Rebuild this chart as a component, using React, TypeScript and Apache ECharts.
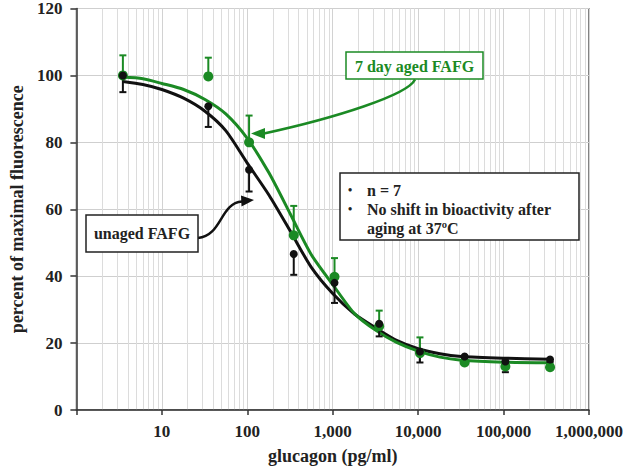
import React, { useEffect, useRef } from "react";
import * as echarts from "echarts";

// Measured doses (pg/ml)
const doses = [3.5, 35, 105, 350, 1050, 3500, 10500, 35000, 105000, 350000];
// unaged FAFG: mean and (lower) error
const unagedMean = [100, 90.8, 71.8, 46.6, 38, 25.8, 17.5, 16, 14.5, 15.1];
const unagedErr = [5, 6.2, 6.5, 6.2, 6, 3.8, 3.3, 1, 3.2, 0.8];
// 7 day aged FAFG: mean and (upper) error
const agedMean = [100, 99.7, 80, 52.2, 39.8, 25, 17, 14.2, 13, 12.8];
const agedErr = [6, 5.6, 8, 8.8, 5.6, 4.7, 4.7, 1, 1.2, 0.8];

// Fitted curves
const fitX = [3.5, 6, 10, 18, 32, 56, 100, 180, 320, 560, 1000, 1800, 3200, 5600, 10000, 18000, 32000, 100000, 350000];
const unagedFit = [98.2, 97.3, 95.8, 93.2, 89.3, 83.5, 73.8, 64.2, 53.4, 42.7, 34.8, 28.7, 24.5, 20.8, 18.3, 16.8, 16.0, 15.5, 15.2];
const agedFit = [99.5, 99.0, 97.6, 95.8, 92.8, 88.5, 81.2, 70.8, 58.5, 46.5, 37.5, 28.8, 23.8, 20.2, 17.6, 15.8, 14.9, 14.3, 14.1];

const yTicks = { min: 0, max: 120, interval: 20 };
const xRange = { min: 1, max: 1000000 };

const GREEN = "#1b8a24";
const BLACK = "#111111";
const FONT = "'Liberation Serif', 'Times New Roman', serif";

function minorGrid(): number[] {
  const out: number[] = [];
  for (let d = 1; d < xRange.max; d *= 10) {
    for (let k = 2; k <= 9; k++) out.push(k * d);
  }
  return out;
}

function errorSeries(name: string, means: number[], errs: number[], dir: number, color: string) {
  return {
    name,
    type: "custom",
    z: 4,
    silent: true,
    data: doses.map((d, i) => [d, means[i], errs[i], dir]),
    encode: { x: 0, y: 1 },
    renderItem: (params: any, api: any) => {
      const x = api.value(0);
      const y = api.value(1);
      const e = api.value(2);
      const s = api.value(3);
      const p0 = api.coord([x, y]);
      const p1 = api.coord([x, y + s * e]);
      return {
        type: "group",
        children: [
          { type: "line", shape: { x1: p0[0], y1: p0[1], x2: p1[0], y2: p1[1] }, style: { stroke: color, lineWidth: 2 } },
          { type: "line", shape: { x1: p1[0] - 3.5, y1: p1[1], x2: p1[0] + 3.5, y2: p1[1] }, style: { stroke: color, lineWidth: 2 } },
        ],
      };
    },
  };
}

export default function App() {
  const ref = useRef<HTMLDivElement>(null);
  useEffect(() => {
    if (!ref.current) return;
    const chart = echarts.init(ref.current, null, { renderer: "svg" });
    const option: any = {
      animation: false,
      backgroundColor: "#ffffff",
      textStyle: { fontFamily: FONT },
      grid: {
        left: 62,
        right: 39,
        top: 7,
        bottom: 58.5,
        show: true,
        borderColor: "#333333",
        borderWidth: 1.2,
        backgroundColor: "transparent",
      },
      xAxis: {
        type: "log",
        logBase: 10,
        min: xRange.min,
        max: xRange.max,
        name: "glucagon (pg/ml)",
        nameLocation: "middle",
        nameGap: 37,
        nameTextStyle: { fontFamily: FONT, fontWeight: "bold", fontSize: 18, color: "#222" },
        axisLine: { lineStyle: { color: "#333", width: 1.5 } },
        axisTick: { show: true, length: 5, lineStyle: { color: "#333", width: 1.5 } },
        axisLabel: {
          fontFamily: FONT,
          fontWeight: "bold",
          fontSize: 17,
          color: "#222",
          margin: 13,
          formatter: (v: number) => (v < 10 ? "" : Math.round(v).toLocaleString("en-US")),
        },
        splitLine: { show: true, lineStyle: { color: "#d2d2d2", width: 1 } },
      },
      yAxis: {
        type: "value",
        min: yTicks.min,
        max: yTicks.max,
        interval: yTicks.interval,
        name: "percent of maximal fluorescence",
        nameLocation: "middle",
        nameGap: 44,
        nameTextStyle: { fontFamily: FONT, fontWeight: "bold", fontSize: 18, color: "#222" },
        axisLine: { show: true, lineStyle: { color: "#333", width: 1.5 } },
        axisTick: { show: true, length: 6, lineStyle: { color: "#333", width: 1.5 } },
        axisLabel: { fontFamily: FONT, fontWeight: "bold", fontSize: 17, color: "#222", margin: 14 },
        splitLine: { show: true, lineStyle: { color: "#cfcfcf", width: 1 } },
      },
      series: [
        {
          name: "minor grid",
          type: "line",
          data: [],
          silent: true,
          z: 0,
          markLine: {
            z: 0,
            silent: true,
            symbol: ["none", "none"],
            label: { show: false },
            emphasis: { disabled: true },
            lineStyle: { color: "#dcdcdc", width: 1, type: "solid" },
            data: minorGrid().map((v) => ({ xAxis: v })),
          },
        },
        {
          name: "unaged fit",
          type: "line",
          z: 3,
          smooth: 0.25,
          showSymbol: false,
          symbol: "none",
          lineStyle: { color: BLACK, width: 3 },
          data: fitX.map((x, i) => [x, unagedFit[i]]),
        },
        {
          name: "aged fit",
          type: "line",
          z: 3,
          smooth: 0.25,
          showSymbol: false,
          symbol: "none",
          lineStyle: { color: GREEN, width: 3 },
          data: fitX.map((x, i) => [x, agedFit[i]]),
        },
        errorSeries("unaged err", unagedMean, unagedErr, -1, BLACK),
        errorSeries("aged err", agedMean, agedErr, 1, GREEN),
        {
          name: "7 day aged FAFG",
          type: "scatter",
          z: 5,
          symbolSize: 10,
          itemStyle: { color: GREEN, opacity: 1 },
          data: doses.map((d, i) => [d, agedMean[i]]),
        },
        {
          name: "unaged FAFG",
          type: "scatter",
          z: 6,
          symbolSize: 8,
          itemStyle: { color: BLACK, opacity: 1 },
          data: doses.map((d, i) => [d, unagedMean[i]]),
        },
      ],
      graphic: [
        // green annotation
        {
          type: "bezierCurve",
          z: 10,
          shape: { x1: 415, y1: 79.5, cpx1: 408, cpy1: 95, cpx2: 335, cpy2: 118, x2: 264, y2: 133.5 },
          style: { stroke: GREEN, lineWidth: 2.5, fill: "none" },
        },
        {
          type: "polygon",
          z: 10,
          shape: { points: [[251, 133.5], [265, 128], [265, 139]] },
          style: { fill: GREEN },
        },
        {
          type: "rect",
          z: 10,
          shape: { x: 346, y: 52, width: 137, height: 27 },
          style: { fill: "#ffffff", stroke: GREEN, lineWidth: 1.5 },
        },
        {
          type: "text",
          z: 11,
          x: 414.5,
          y: 66,
          style: {
            text: "7 day aged FAFG",
            fill: GREEN,
            font: `bold 16px ${FONT}`,
            align: "center",
            verticalAlign: "middle",
          },
        },
        // black annotation
        {
          type: "bezierCurve",
          z: 10,
          shape: { x1: 198, y1: 238, cpx1: 222, cpy1: 236, cpx2: 220, cpy2: 203, x2: 242, y2: 201.5 },
          style: { stroke: BLACK, lineWidth: 2.5, fill: "none" },
        },
        {
          type: "polygon",
          z: 10,
          shape: { points: [[254, 200], [241, 195.5], [241.5, 206.5]] },
          style: { fill: BLACK },
        },
        {
          type: "rect",
          z: 10,
          shape: { x: 86, y: 215, width: 112, height: 37 },
          style: { fill: "#ffffff", stroke: "#222", lineWidth: 1.5 },
        },
        {
          type: "text",
          z: 11,
          x: 142,
          y: 233.5,
          style: {
            text: "unaged FAFG",
            fill: "#222",
            font: `bold 16px ${FONT}`,
            align: "center",
            verticalAlign: "middle",
          },
        },
        // info box
        {
          type: "rect",
          z: 10,
          shape: { x: 340, y: 173, width: 239, height: 67 },
          style: { fill: "#ffffff", stroke: "#222", lineWidth: 1.5 },
        },
        {
          type: "text",
          z: 11,
          x: 350,
          y: 190,
          style: { text: "•", fill: "#222", font: `bold 12px ${FONT}`, align: "center", verticalAlign: "middle" },
        },
        {
          type: "text",
          z: 11,
          x: 350,
          y: 209,
          style: { text: "•", fill: "#222", font: `bold 12px ${FONT}`, align: "center", verticalAlign: "middle" },
        },
        {
          type: "text",
          z: 11,
          x: 367,
          y: 190,
          style: { text: "n = 7", fill: "#222", font: `bold 16px ${FONT}`, align: "left", verticalAlign: "middle" },
        },
        {
          type: "text",
          z: 11,
          x: 367,
          y: 209,
          style: {
            text: "No shift in bioactivity after",
            fill: "#222",
            font: `bold 16px ${FONT}`,
            align: "left",
            verticalAlign: "middle",
          },
        },
        {
          type: "text",
          z: 11,
          x: 367,
          y: 228,
          style: {
            text: "aging at 37ºC",
            fill: "#222",
            font: `bold 16px ${FONT}`,
            align: "left",
            verticalAlign: "middle",
          },
        },
      ],
    };
    chart.setOption(option);
    return () => chart.dispose();
  }, []);
  return <div ref={ref} style={{ position: "absolute", left: 0, top: 0, width: 628, height: 470 }} />;
}
